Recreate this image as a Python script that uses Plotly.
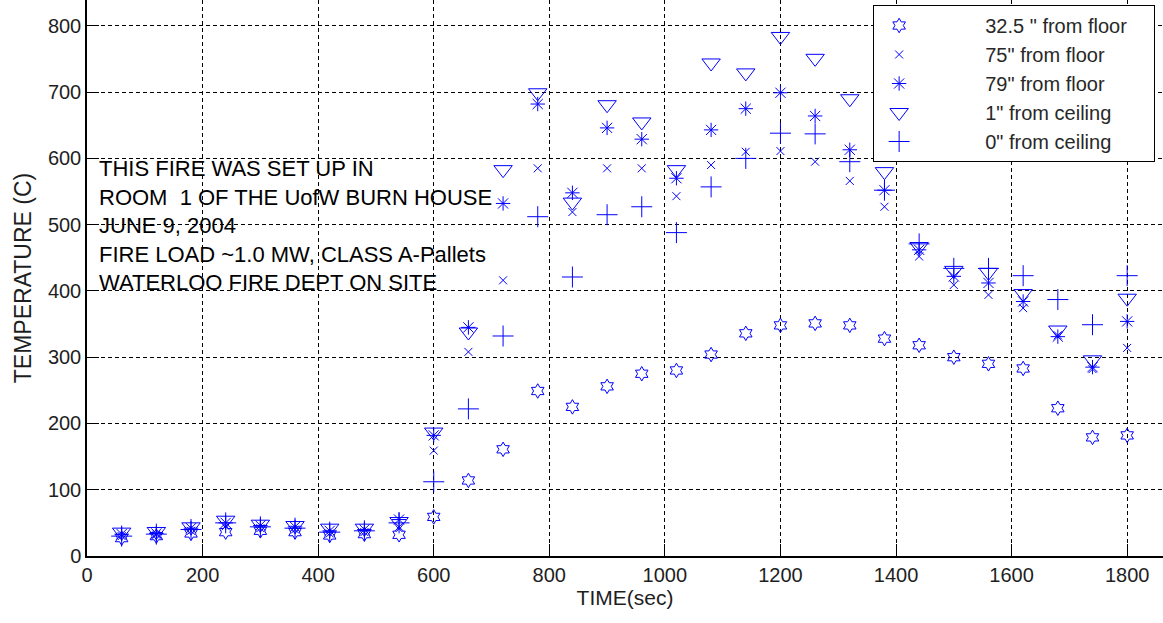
import plotly.graph_objects as go

time_sec = [60, 120, 180, 240, 300, 360, 420, 480, 540, 600,
            660, 720, 780, 840, 900, 960, 1020, 1080, 1140, 1200,
            1260, 1320, 1380, 1440, 1500, 1560, 1620, 1680, 1740, 1800]

t_32_5_floor = [27, 30, 34, 36, 38, 36, 31, 33, 32, 59,
                114, 161, 249, 225, 256, 275, 280, 304, 336, 348,
                351, 348, 328, 318, 300, 290, 283, 223, 179, 182]

t_75_floor = [30, 32, 38, 45, 42, 40, 34, 36, 44, 159,
              308, 416, 585, 519, 585, 585, 543, 590, 610, 611,
              595, 566, 527, 452, 409, 394, 374, 333, 282, 314]

t_79_floor = [33, 34, 42, 50, 46, 44, 38, 40, 55, 182,
              345, 532, 682, 548, 646, 629, 570, 643, 675, 699,
              664, 613, 552, 462, 422, 412, 384, 331, 285, 354]

t_1_ceiling = [36, 37, 44, 54, 48, 46, 42, 42, 52, 187,
               338, 583, 699, 534, 681, 655, 583, 744, 729, 784,
               751, 690, 580, 467, 431, 428, 396, 341, 296, 389]

t_0_ceiling = [30, 33, 40, 50, 44, 42, 36, 38, 50, 112,
               222, 332, 512, 421, 515, 527, 488, 557, 600, 638,
               637, 595, 552, 471, 434, 434, 423, 387, 349, 423]

series_names = ['32.5 " from floor', '75" from floor', '79" from floor',
                '1" from ceiling', '0" from ceiling']
x_ticks = [0, 200, 400, 600, 800, 1000, 1200, 1400, 1600, 1800]
y_ticks = [0, 100, 200, 300, 400, 500, 600, 700, 800]

note_lines = ["THIS FIRE WAS SET UP IN",
              "ROOM  1 OF THE UofW BURN HOUSE",
              "JUNE 9, 2004",
              "FIRE LOAD ~1.0 MW, CLASS A-Pallets",
              "WATERLOO FIRE DEPT ON SITE"]

BLUE = "rgb(0,0,255)"
FONT = "Liberation Sans, Arial, sans-serif"
PAD = "\u00a0" * 11
PAD_R = "\u00a0" * 4

styles = [("hexagram-open", 11),
          ("x-thin-open", 8),
          ("asterisk-open", 12),
          ("triangle-down-open", 16),
          ("cross-thin-open", 15)]
data = [t_32_5_floor, t_75_floor, t_79_floor, t_1_ceiling, t_0_ceiling]

fig = go.Figure()
for name, vals, (sym, sz) in zip(series_names, data, styles):
    fig.add_trace(go.Scatter(
        x=time_sec, y=vals, mode="markers", name=PAD + name + PAD_R,
        marker=dict(symbol=sym, size=sz, color=BLUE,
                    line=dict(color=BLUE, width=1)),
    ))

fig.add_annotation(
    x=18, y=499, xref="x", yref="y", xanchor="left", yanchor="middle",
    align="left", showarrow=False, text="<br>".join(note_lines),
    font=dict(family=FONT, size=22, color="black"),
)

axis_common = dict(
    showline=True, linecolor="black", linewidth=1.5, mirror=False,
    ticks="inside", ticklen=12, tickcolor="black", tickwidth=1,
    showgrid=True, gridcolor="black", gridwidth=1, griddash="4px,3px",
    zeroline=False, tickfont=dict(family=FONT, size=20, color="rgb(30,30,30)"),
)

fig.update_xaxes(range=[0, 1862], tickvals=x_ticks,
                 title=dict(text="TIME(sec)", font=dict(family=FONT, size=21, color="rgb(30,30,30)"), standoff=6),
                 **axis_common)
fig.update_yaxes(range=[0, 839], tickvals=y_ticks,
                 title=dict(text="TEMPERATURE (C)", font=dict(family=FONT, size=23, color="rgb(30,30,30)"), standoff=10),
                 **axis_common)

fig.update_layout(
    width=1163, height=623,
    margin=dict(l=87, r=0, t=0, b=67),
    paper_bgcolor="white", plot_bgcolor="white",
    font=dict(family=FONT, color="black"),
    legend=dict(x=0.7306, y=0.991, xanchor="left", yanchor="top",
                bgcolor="white", bordercolor="black", borderwidth=1,
                font=dict(family=FONT, size=20, color="rgb(40,40,40)"),
                tracegroupgap=0, itemwidth=40),
    showlegend=True,
)

fig.write_html("out.html")
